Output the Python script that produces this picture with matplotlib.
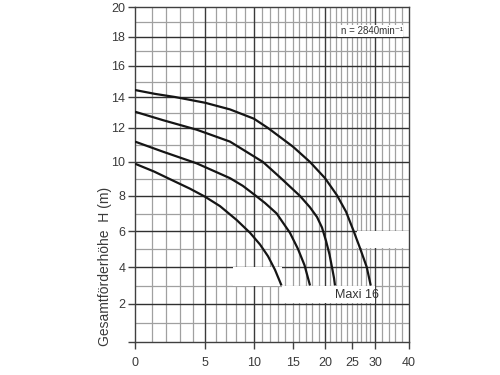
import numpy as np
import matplotlib
matplotlib.use("Agg")
import matplotlib.pyplot as plt
from matplotlib.patches import Rectangle

plt.rcParams['font.family'] = ['Liberation Sans', 'DejaVu Sans']

# ---- data ----
q1 = [0, 1.17, 2.5, 3.78, 5, 6.44, 8.1, 9.56, 10.76, 11.75, 12.65, 13.5]
h1 = [9.9, 9.44, 8.9, 8.43, 7.96, 7.42, 6.63, 5.9, 5.25, 4.6, 3.85, 3.0]

q2 = [0, 1.79, 4.32, 7.42, 8.75, 10, 11.38, 12.87, 14.6, 15.78, 16.8, 17.66]
h2 = [11.2, 10.6, 9.92, 9.05, 8.6, 8.1, 7.6, 7.0, 5.9, 5.0, 4.1, 3.0]

q3 = [0, 1.79, 4.32, 7.42, 11.13, 13.3, 16.1, 17.66, 18.75, 19.53, 20.19, 20.83, 21.35, 21.67, 21.85]
h3 = [13.05, 12.5, 11.9, 11.2, 10.0, 9.1, 8.0, 7.35, 6.8, 6.2, 5.45, 4.7, 3.9, 3.4, 3.0]

q4 = [0, 1.24, 2.63, 5, 7.42, 10, 11.75, 15, 17.66, 20, 22.2, 23.9, 25.28, 26.74, 28.2, 29.07]
h4 = [14.45, 14.2, 14.0, 13.63, 13.2, 12.6, 12.0, 10.9, 10.0, 9.05, 8.05, 7.1, 6.05, 5.05, 4.0, 3.0]

curves_q = [q1, q2, q3, q4]
curves_h = [h1, h2, h3, h4]

x_ticks = [0, 5, 10, 15, 20, 25, 30, 40]
y_ticks = [0, 2, 4, 6, 8, 10, 12, 14, 16, 18, 20]
y_labels = ['', '2', '4', '6', '8', '10', '12', '14', '16', '18', '20']

speed_label = "n = 2840min\u207b\u00b9"
model_label = "Maxi 16"
y_title = "Gesamtförderhöhe  H (m)"

# ---- non-linear axis scales (as printed on the chart paper) ----
xs_val = np.array([0, 1, 2, 3, 4, 5, 6, 7, 8, 9, 10, 12, 15, 20, 25, 30, 40], float)
xs_pos = np.array([0, 16.5, 31.4, 45, 57.8, 70, 80.5, 90.8, 100.7, 110.1, 118.9,
                   135, 158, 190, 217, 240, 274], float)
ys_val = np.array([0, 2, 4, 6, 8, 10, 12, 14, 16, 18, 20], float)
ys_pos = np.array([0, 38, 75, 111, 146, 180, 214, 245, 276, 305.3, 334.7], float)

def fx(v): return np.interp(v, xs_val, xs_pos)
def ifx(p): return np.interp(p, xs_pos, xs_val)
def fy(v): return np.interp(v, ys_val, ys_pos)
def ify(p): return np.interp(p, ys_pos, ys_val)

fig = plt.figure(figsize=(5, 3.75), dpi=100)
ax = fig.add_axes([135/500, 1-342/375, 274/500, (342-7.3)/375])
ax.set_xscale('function', functions=(fx, ifx))
ax.set_yscale('function', functions=(fy, ify))
ax.set_xlim(0, 40)
ax.set_ylim(0, 20)

# grid lines
x_major_grid = [5, 10, 20, 30]
x_minor_grid = [v for v in range(1, 30) if v not in x_major_grid] + [32, 34, 36, 38]
for v in x_minor_grid:
    ax.axvline(v, color='#a0a0a0', lw=0.9, zorder=1)
for v in x_major_grid:
    ax.axvline(v, color='#3a3a3a', lw=1.0, zorder=1.5)
for v in range(1, 20, 2):
    ax.axhline(v, color='#a0a0a0', lw=0.9, zorder=1)
for v in range(2, 20, 2):
    ax.axhline(v, color='#303030', lw=1.0, zorder=1.5)

# white label boxes
ax.add_patch(Rectangle((26, 5.05), 14, 0.95, facecolor='white', edgecolor='none', zorder=2))
ax.add_patch(Rectangle((7.7, 3.0), 5.8, 1.0, facecolor='white', edgecolor='none', zorder=2))
ax.add_patch(Rectangle((13.5, 2.05), 16.5, 0.95, facecolor='white', edgecolor='none', zorder=2))
ax.add_patch(Rectangle((22.4, 18.0), 15.8, 0.8, facecolor='white', edgecolor='none', zorder=2))

for q, h in zip(curves_q, curves_h):
    ax.plot(q, h, color='#151515', lw=1.6, zorder=3, solid_capstyle='butt',
            solid_joinstyle='round')

ax.text(26.1, 2.5, model_label, fontsize=9, color='#333333', ha='center', va='center', zorder=4)
ax.text(29.3, 18.4, speed_label, fontsize=7, color='#333333', ha='center', va='center', zorder=4)

for s in ax.spines.values():
    s.set_color('#404040')
    s.set_linewidth(1.0)

ax.set_xticks(x_ticks)
ax.set_xticklabels([str(v) for v in x_ticks])
ax.set_yticks(y_ticks)
ax.set_yticklabels(y_labels)
ax.xaxis.set_minor_locator(matplotlib.ticker.NullLocator())
ax.yaxis.set_minor_locator(matplotlib.ticker.NullLocator())
ax.tick_params(axis='both', direction='out', length=5, width=1.0, color='#404040',
               labelsize=9, labelcolor='#3a3a3a')
ax.tick_params(axis='x', pad=6)
ax.tick_params(axis='y', pad=2)

fig.text(105/500, 1-266/375, y_title, rotation=90, fontsize=10, color='#3a3a3a',
         ha='center', va='center')

fig.savefig('out.png', dpi=100, facecolor='white')
